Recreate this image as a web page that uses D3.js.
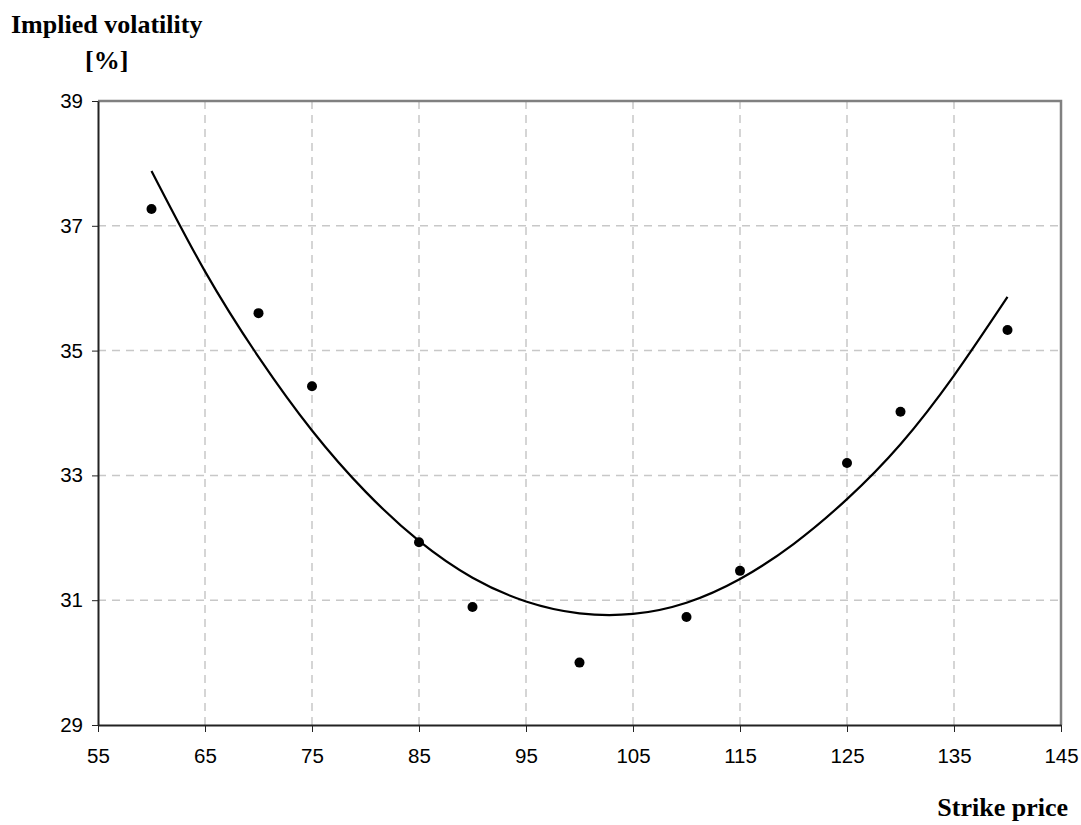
<!DOCTYPE html>
<html>
<head>
<meta charset="utf-8">
<script src="https://cdn.jsdelivr.net/npm/d3@7"></script>
<style>
  body { margin: 0; background: #fff; }
</style>
</head>
<body>
<div id="chart"></div>
<script>
// observed implied volatilities by strike
const strikes = [60, 70, 75, 85, 90, 100, 110, 115, 125, 130, 140];
const vols = [37.27, 35.6, 34.43, 31.93, 30.89, 30.0, 30.73, 31.47, 33.2, 34.02, 35.33];

// trend curve
const curveStrikes = [60, 65, 70, 75, 80, 85, 90, 95, 100, 105, 110, 115, 120, 125, 130, 135, 140];
const curveVols = [37.88, 36.27, 34.9, 33.72, 32.74, 31.95, 31.36, 30.98, 30.79, 30.78, 30.96, 31.34, 31.9, 32.62, 33.5, 34.6, 35.86];

const xTicks = [55, 65, 75, 85, 95, 105, 115, 125, 135, 145];
const yTicks = [29, 31, 33, 35, 37, 39];

const W = 1081, H = 825;
const margin = {top: 101, right: 20, bottom: 100, left: 98},
      width = W - margin.left - margin.right,
      height = H - margin.top - margin.bottom;

const svg = d3.select("#chart").append("svg")
    .attr("width", W)
    .attr("height", H)
    .style("display", "block");

const g = svg.append("g")
    .attr("transform", `translate(${margin.left},${margin.top})`);

const x = d3.scaleLinear().domain([55, 145]).range([0, width]);
const y = d3.scaleLinear().domain([29, 39]).range([height, 0]);

// dashed grid
g.append("g").selectAll("line")
    .data(xTicks.slice(1, -1))
    .join("line")
    .attr("x1", d => x(d)).attr("x2", d => x(d))
    .attr("y1", 0).attr("y2", height)
    .attr("stroke", "#c8c8c8")
    .attr("stroke-width", 1.5)
    .attr("stroke-dasharray", "8,6");

g.append("g").selectAll("line")
    .data(yTicks.slice(1, -1))
    .join("line")
    .attr("x1", 0).attr("x2", width)
    .attr("y1", d => y(d)).attr("y2", d => y(d))
    .attr("stroke", "#c8c8c8")
    .attr("stroke-width", 1.5)
    .attr("stroke-dasharray", "8,6");

// top and right frame
g.append("path")
    .attr("d", `M0,0H${width}V${height}`)
    .attr("fill", "none")
    .attr("stroke", "#808080")
    .attr("stroke-width", 2.5);

// axes
const xAxis = g.append("g")
    .attr("transform", `translate(0,${height})`)
    .call(d3.axisBottom(x).tickValues(xTicks).tickSize(7).tickPadding(16).tickSizeOuter(0));

const yAxis = g.append("g")
    .call(d3.axisLeft(y).tickValues(yTicks).tickSize(6).tickPadding(9).tickSizeOuter(0));

[xAxis, yAxis].forEach(a => {
    a.select(".domain").attr("stroke", "#222").attr("stroke-width", 2);
    a.selectAll(".tick line").attr("stroke", "#222").attr("stroke-width", 1);
    a.selectAll("text")
        .attr("fill", "#000")
        .style("font-family", "'Liberation Sans', Arial, sans-serif")
        .style("font-size", "20.5px");
});

// trend curve
const line = d3.line()
    .x((d, i) => x(curveStrikes[i]))
    .y(d => y(d))
    .curve(d3.curveNatural);

g.append("path")
    .datum(curveVols)
    .attr("fill", "none")
    .attr("stroke", "#000")
    .attr("stroke-width", 2.2)
    .attr("d", line);

// observed points
g.append("g").selectAll("circle")
    .data(vols)
    .join("circle")
    .attr("cx", (d, i) => x(strikes[i]))
    .attr("cy", d => y(d))
    .attr("r", 5)
    .attr("fill", "#000");

// titles
const titleFont = "'Liberation Serif', 'Times New Roman', serif";
svg.append("text")
    .attr("x", 11).attr("y", 33)
    .style("font-family", titleFont)
    .style("font-weight", "bold")
    .style("font-size", "26px")
    .text("Implied volatility");

svg.append("text")
    .attr("x", 85).attr("y", 69)
    .style("font-family", titleFont)
    .style("font-weight", "bold")
    .style("font-size", "26px")
    .text("[%]");

svg.append("text")
    .attr("x", 1068).attr("y", 816)
    .attr("text-anchor", "end")
    .style("font-family", titleFont)
    .style("font-weight", "bold")
    .style("font-size", "26px")
    .text("Strike price");
</script>
</body>
</html>
